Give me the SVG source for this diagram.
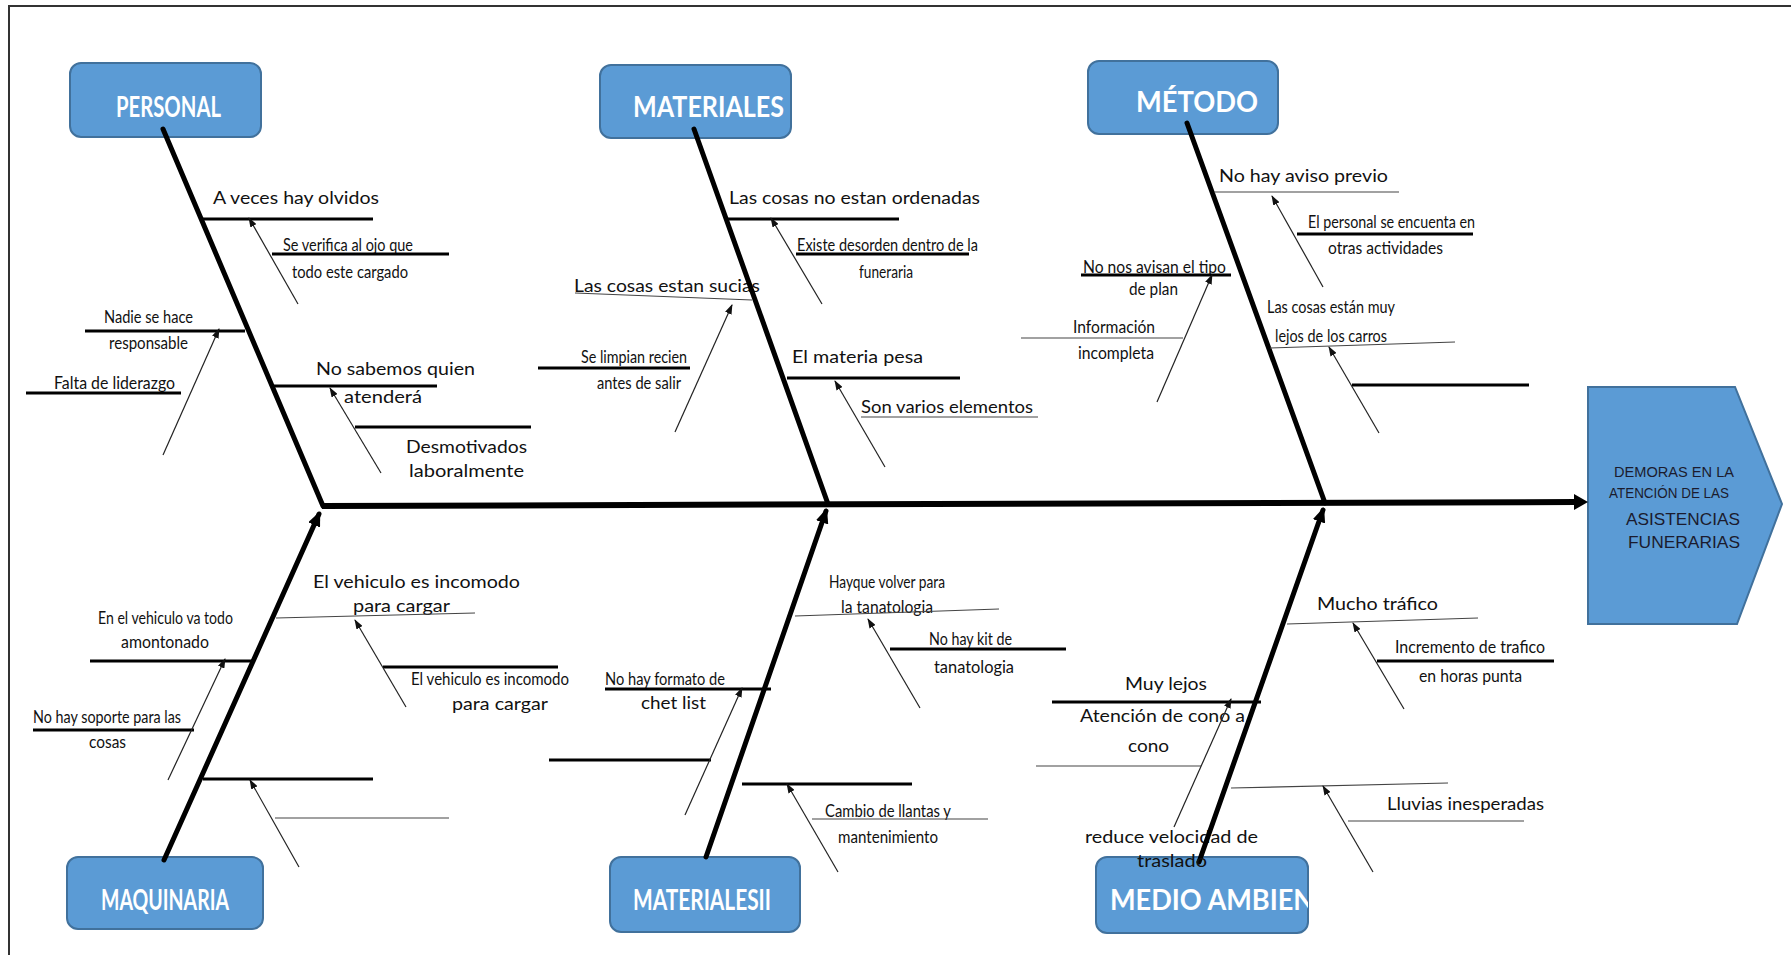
<svg xmlns="http://www.w3.org/2000/svg" width="1791" height="955" viewBox="0 0 1791 955">
  <style>
    .frame{fill:none;stroke:#333;stroke-width:2}
    .box{fill:#5B9BD5;stroke:#41719C;stroke-width:2}
    .title{font-family:Lato,"Liberation Sans",sans-serif;font-weight:bold;font-size:29px;fill:#fff}
    .head{font-family:"Liberation Sans",Arial,sans-serif;fill:#1b1b2e}
    .L{font-family:Lato,"Liberation Sans",sans-serif;font-size:17.5px;fill:#111}
    .N{font-family:Lato,"Liberation Sans",sans-serif;font-size:18px;fill:#111}
    .bone{stroke:#000;stroke-width:5;fill:none;stroke-linecap:round}
    .spine{stroke:#000;stroke-width:6;fill:none}
    .sub{stroke:#000;stroke-width:3;fill:none}
    .thin{stroke:#444;stroke-width:1.2;fill:none}
    .arr{stroke:#222;stroke-width:1.2;fill:none;marker-end:url(#ah)}
    .up{marker-end:url(#bh)}
  </style>
  <defs>
    <marker id="ah" viewBox="0 0 10 10" refX="9" refY="5" markerWidth="10" markerHeight="7" markerUnits="userSpaceOnUse" orient="auto" preserveAspectRatio="none">
      <path d="M0,0 L10,5 L0,10 z" fill="#111"/>
    </marker>
    <marker id="bh" viewBox="0 0 10 10" refX="8" refY="5" markerWidth="15" markerHeight="13" markerUnits="userSpaceOnUse" orient="auto" preserveAspectRatio="none">
      <path d="M0,0 L10,5 L0,10 z" fill="#000"/>
    </marker>
    <clipPath id="clipMA">
      <rect x="1096" y="857" width="212" height="76"/>
    </clipPath>
  </defs>

  <!-- page frame -->
  <path class="frame" d="M9,955 V6 H1791"/>

  <!-- effect: head of the fish -->
  <g id="head">
    <polygon class="box" points="1588,387 1735,387 1782,504 1737,624 1588,624"/>
    <text class="head" x="1614" y="477" font-size="14" textLength="120" lengthAdjust="spacingAndGlyphs">DEMORAS EN LA</text>
    <text class="head" x="1609" y="498" font-size="14" textLength="120" lengthAdjust="spacingAndGlyphs">ATENCIÓN DE LAS</text>
    <text class="head" x="1626" y="525" font-size="17" textLength="114" lengthAdjust="spacingAndGlyphs">ASISTENCIAS</text>
    <text class="head" x="1628" y="548" font-size="17" textLength="112" lengthAdjust="spacingAndGlyphs">FUNERARIAS</text>
  </g>

  <!-- category: PERSONAL -->
  <g id="personal">
    <rect class="box" x="70" y="63" width="191" height="74" rx="11"/>
    <text class="title" x="116" y="117" textLength="105" lengthAdjust="spacingAndGlyphs">PERSONAL</text>
    <text class="L" x="213" y="204" textLength="166" lengthAdjust="spacingAndGlyphs">A veces hay olvidos</text>
    <text class="N" x="283" y="251" textLength="130" lengthAdjust="spacingAndGlyphs">Se verifica al ojo que</text>
    <text class="N" x="292" y="278" textLength="116" lengthAdjust="spacingAndGlyphs">todo este cargado</text>
    <text class="N" x="104" y="323" textLength="89" lengthAdjust="spacingAndGlyphs">Nadie se hace</text>
    <text class="N" x="109" y="349" textLength="79" lengthAdjust="spacingAndGlyphs">responsable</text>
    <text class="N" x="54" y="389" textLength="121" lengthAdjust="spacingAndGlyphs">Falta de liderazgo</text>
    <text class="L" x="316" y="375" textLength="159" lengthAdjust="spacingAndGlyphs">No sabemos quien</text>
    <text class="L" x="344" y="403" textLength="78" lengthAdjust="spacingAndGlyphs">atenderá</text>
    <text class="L" x="406" y="453" textLength="121" lengthAdjust="spacingAndGlyphs">Desmotivados</text>
    <text class="L" x="409" y="477" textLength="115" lengthAdjust="spacingAndGlyphs">laboralmente</text>
  </g>

  <!-- category: MATERIALES -->
  <g id="materiales">
    <rect class="box" x="600" y="65" width="191" height="73" rx="11"/>
    <text class="title" x="633" y="117" textLength="151" lengthAdjust="spacingAndGlyphs">MATERIALES</text>
    <text class="L" x="729" y="204" textLength="251" lengthAdjust="spacingAndGlyphs">Las cosas no estan ordenadas</text>
    <text class="N" x="797" y="251" textLength="181" lengthAdjust="spacingAndGlyphs">Existe desorden dentro de la</text>
    <text class="N" x="859" y="278" textLength="54" lengthAdjust="spacingAndGlyphs">funeraria</text>
    <text class="L" x="574" y="292" textLength="186" lengthAdjust="spacingAndGlyphs">Las cosas estan sucias</text>
    <text class="N" x="581" y="363" textLength="106" lengthAdjust="spacingAndGlyphs">Se limpian recien</text>
    <text class="N" x="597" y="389" textLength="84" lengthAdjust="spacingAndGlyphs">antes de salir</text>
    <text class="L" x="792" y="363" textLength="131" lengthAdjust="spacingAndGlyphs">El materia pesa</text>
    <text class="N" x="861" y="413" textLength="172" lengthAdjust="spacingAndGlyphs">Son varios elementos</text>
  </g>

  <!-- category: MÉTODO -->
  <g id="metodo">
    <rect class="box" x="1088" y="61" width="190" height="73" rx="11"/>
    <text class="title" x="1136" y="112" textLength="122" lengthAdjust="spacingAndGlyphs">MÉTODO</text>
    <text class="N" x="1219" y="182" textLength="169" lengthAdjust="spacingAndGlyphs">No hay aviso previo</text>
    <text class="N" x="1308" y="228" textLength="167" lengthAdjust="spacingAndGlyphs">El personal se encuenta en</text>
    <text class="N" x="1328" y="254" textLength="115" lengthAdjust="spacingAndGlyphs">otras actividades</text>
    <text class="N" x="1083" y="273" textLength="143" lengthAdjust="spacingAndGlyphs">No nos avisan el tipo</text>
    <text class="N" x="1129" y="295" textLength="49" lengthAdjust="spacingAndGlyphs">de plan</text>
    <text class="N" x="1073" y="333" textLength="82" lengthAdjust="spacingAndGlyphs">Información</text>
    <text class="N" x="1078" y="359" textLength="76" lengthAdjust="spacingAndGlyphs">incompleta</text>
    <text class="N" x="1267" y="313" textLength="128" lengthAdjust="spacingAndGlyphs">Las cosas están muy</text>
    <text class="N" x="1275" y="342" textLength="112" lengthAdjust="spacingAndGlyphs">lejos de los carros</text>
  </g>

  <!-- category: MAQUINARIA -->
  <g id="maquinaria">
    <rect class="box" x="67" y="857" width="196" height="72" rx="11"/>
    <text class="title" x="101" y="910" textLength="128" lengthAdjust="spacingAndGlyphs">MAQUINARIA</text>
    <text class="L" x="313" y="588" textLength="207" lengthAdjust="spacingAndGlyphs">El vehiculo es incomodo</text>
    <text class="L" x="353" y="612" textLength="97" lengthAdjust="spacingAndGlyphs">para cargar</text>
    <text class="N" x="411" y="685" textLength="158" lengthAdjust="spacingAndGlyphs">El vehiculo es incomodo</text>
    <text class="L" x="452" y="710" textLength="96" lengthAdjust="spacingAndGlyphs">para cargar</text>
    <text class="N" x="98" y="624" textLength="135" lengthAdjust="spacingAndGlyphs">En el vehiculo va todo</text>
    <text class="N" x="121" y="648" textLength="88" lengthAdjust="spacingAndGlyphs">amontonado</text>
    <text class="N" x="33" y="723" textLength="148" lengthAdjust="spacingAndGlyphs">No hay soporte para las</text>
    <text class="N" x="89" y="748" textLength="37" lengthAdjust="spacingAndGlyphs">cosas</text>
  </g>

  <!-- category: MATERIALESII -->
  <g id="materialesii">
    <rect class="box" x="610" y="857" width="190" height="75" rx="11"/>
    <text class="title" x="633" y="910" textLength="138" lengthAdjust="spacingAndGlyphs">MATERIALESII</text>
    <text class="N" x="829" y="588" textLength="116" lengthAdjust="spacingAndGlyphs">Hayque volver para</text>
    <text class="N" x="841" y="613" textLength="92" lengthAdjust="spacingAndGlyphs">la tanatologia</text>
    <text class="N" x="929" y="645" textLength="83" lengthAdjust="spacingAndGlyphs">No hay kit de</text>
    <text class="N" x="934" y="673" textLength="80" lengthAdjust="spacingAndGlyphs">tanatologia</text>
    <text class="N" x="605" y="685" textLength="120" lengthAdjust="spacingAndGlyphs">No hay formato de</text>
    <text class="L" x="641" y="709" textLength="65" lengthAdjust="spacingAndGlyphs">chet list</text>
    <text class="N" x="825" y="817" textLength="126" lengthAdjust="spacingAndGlyphs">Cambio de llantas y</text>
    <text class="N" x="838" y="843" textLength="100" lengthAdjust="spacingAndGlyphs">mantenimiento</text>
  </g>

  <!-- category: MEDIO AMBIENTE -->
  <g id="medio-ambiente">
    <rect class="box" x="1096" y="857" width="212" height="76" rx="11"/>
    <text class="title" x="1110" y="910" textLength="236" lengthAdjust="spacingAndGlyphs" clip-path="url(#clipMA)">MEDIO AMBIENTE</text>
    <text class="N" x="1317" y="610" textLength="121" lengthAdjust="spacingAndGlyphs">Mucho tráfico</text>
    <text class="N" x="1395" y="653" textLength="150" lengthAdjust="spacingAndGlyphs">Incremento de trafico</text>
    <text class="N" x="1419" y="682" textLength="103" lengthAdjust="spacingAndGlyphs">en horas punta</text>
    <text class="N" x="1125" y="690" textLength="82" lengthAdjust="spacingAndGlyphs">Muy lejos</text>
    <text class="N" x="1080" y="722" textLength="165" lengthAdjust="spacingAndGlyphs">Atención de cono a</text>
    <text class="N" x="1128" y="752" textLength="41" lengthAdjust="spacingAndGlyphs">cono</text>
    <text class="N" x="1387" y="810" textLength="157" lengthAdjust="spacingAndGlyphs">Lluvias inesperadas</text>
    <text class="N" x="1085" y="843" textLength="173" lengthAdjust="spacingAndGlyphs">reduce velocidad de</text>
  </g>

  <!-- connectors: spine, main bones, sub causes and small arrows (drawn over the category boxes) -->
  <g id="connectors">
    <line class="spine" x1="322" y1="506" x2="1576" y2="502"/>
    <polygon points="1574,494 1588,502 1574,510" fill="#000"/>

    <line class="bone" x1="163" y1="129" x2="323" y2="506"/>
    <line class="bone" x1="694" y1="129" x2="828" y2="504"/>
    <line class="bone" x1="1187" y1="123" x2="1325" y2="503"/>
    <line class="bone up" x1="164" y1="860" x2="319" y2="514"/>
    <line class="bone up" x1="706" y1="857" x2="826" y2="511"/>
    <line class="bone up" x1="1199" y1="862" x2="1323" y2="510"/>

    <!-- thick cause lines -->
    <line class="sub" x1="202" y1="219" x2="373" y2="219"/>
    <line class="sub" x1="272" y1="254" x2="449" y2="254" stroke-width="2.5"/>
    <line class="sub" x1="85" y1="331" x2="245" y2="331"/>
    <line class="sub" x1="26" y1="393" x2="181" y2="393" stroke-width="2.5"/>
    <line class="sub" x1="272" y1="386" x2="437" y2="386"/>
    <line class="sub" x1="355" y1="427" x2="531" y2="427"/>
    <line class="sub" x1="727" y1="219" x2="899" y2="219"/>
    <line class="sub" x1="796" y1="254" x2="969" y2="254" stroke-width="2.5"/>
    <line class="sub" x1="538" y1="368" x2="690" y2="368"/>
    <line class="sub" x1="787" y1="378" x2="960" y2="378"/>
    <line class="sub" x1="1297" y1="234" x2="1473" y2="234"/>
    <line class="sub" x1="1081" y1="275" x2="1231" y2="275"/>
    <line class="sub" x1="1352" y1="385" x2="1529" y2="385"/>
    <line class="sub" x1="90" y1="661" x2="253" y2="661"/>
    <line class="sub" x1="383" y1="667" x2="558" y2="667"/>
    <line class="sub" x1="33" y1="730" x2="194" y2="730"/>
    <line class="sub" x1="203" y1="779" x2="373" y2="779"/>
    <line class="sub" x1="890" y1="649" x2="1066" y2="649"/>
    <line class="sub" x1="605" y1="689" x2="771" y2="689"/>
    <line class="sub" x1="549" y1="760" x2="711" y2="760"/>
    <line class="sub" x1="742" y1="784" x2="912" y2="784"/>
    <line class="sub" x1="1377" y1="661" x2="1554" y2="661"/>
    <line class="sub" x1="1052" y1="702" x2="1261" y2="702"/>

    <!-- thin cause lines -->
    <line class="thin" x1="575" y1="293" x2="752" y2="300"/>
    <line class="thin" x1="861" y1="417" x2="1038" y2="417" stroke="#000" stroke-width="1.6"/>
    <line class="thin" x1="1214" y1="192" x2="1399" y2="192"/>
    <line class="thin" x1="1021" y1="338" x2="1183" y2="338"/>
    <line class="thin" x1="1270" y1="348" x2="1455" y2="342"/>
    <line class="thin" x1="276" y1="618" x2="475" y2="613"/>
    <line class="thin" x1="275" y1="818" x2="449" y2="818"/>
    <line class="thin" x1="795" y1="616" x2="999" y2="609"/>
    <line class="thin" x1="812" y1="819" x2="988" y2="819"/>
    <line class="thin" x1="1287" y1="624" x2="1478" y2="618"/>
    <line class="thin" x1="1036" y1="766" x2="1201" y2="766"/>
    <line class="thin" x1="1231" y1="788" x2="1448" y2="783"/>
    <line class="thin" x1="1348" y1="821" x2="1524" y2="821"/>

    <!-- small cause arrows -->
    <line class="arr" x1="298" y1="304" x2="249" y2="218"/>
    <line class="arr" x1="163" y1="455" x2="219" y2="329"/>
    <line class="arr" x1="381" y1="473" x2="330" y2="388"/>
    <line class="arr" x1="822" y1="304" x2="771" y2="218"/>
    <line class="arr" x1="675" y1="432" x2="732" y2="305"/>
    <line class="arr" x1="885" y1="467" x2="835" y2="381"/>
    <line class="arr" x1="1323" y1="287" x2="1272" y2="196"/>
    <line class="arr" x1="1157" y1="402" x2="1212" y2="275"/>
    <line class="arr" x1="1379" y1="433" x2="1329" y2="347"/>
    <line class="arr" x1="406" y1="707" x2="355" y2="620"/>
    <line class="arr" x1="168" y1="780" x2="225" y2="659"/>
    <line class="arr" x1="299" y1="867" x2="250" y2="780"/>
    <line class="arr" x1="920" y1="708" x2="868" y2="619"/>
    <line class="arr" x1="685" y1="815" x2="742" y2="688"/>
    <line class="arr" x1="838" y1="872" x2="787" y2="784"/>
    <line class="arr" x1="1404" y1="709" x2="1353" y2="623"/>
    <line class="arr" x1="1174" y1="827" x2="1231" y2="699"/>
    <line class="arr" x1="1373" y1="872" x2="1323" y2="786"/>
  </g>

  <!-- last line of the MEDIO AMBIENTE cause, printed over its box and bone -->
  <text class="N" x="1137" y="867" textLength="70" lengthAdjust="spacingAndGlyphs">traslado</text>
</svg>
